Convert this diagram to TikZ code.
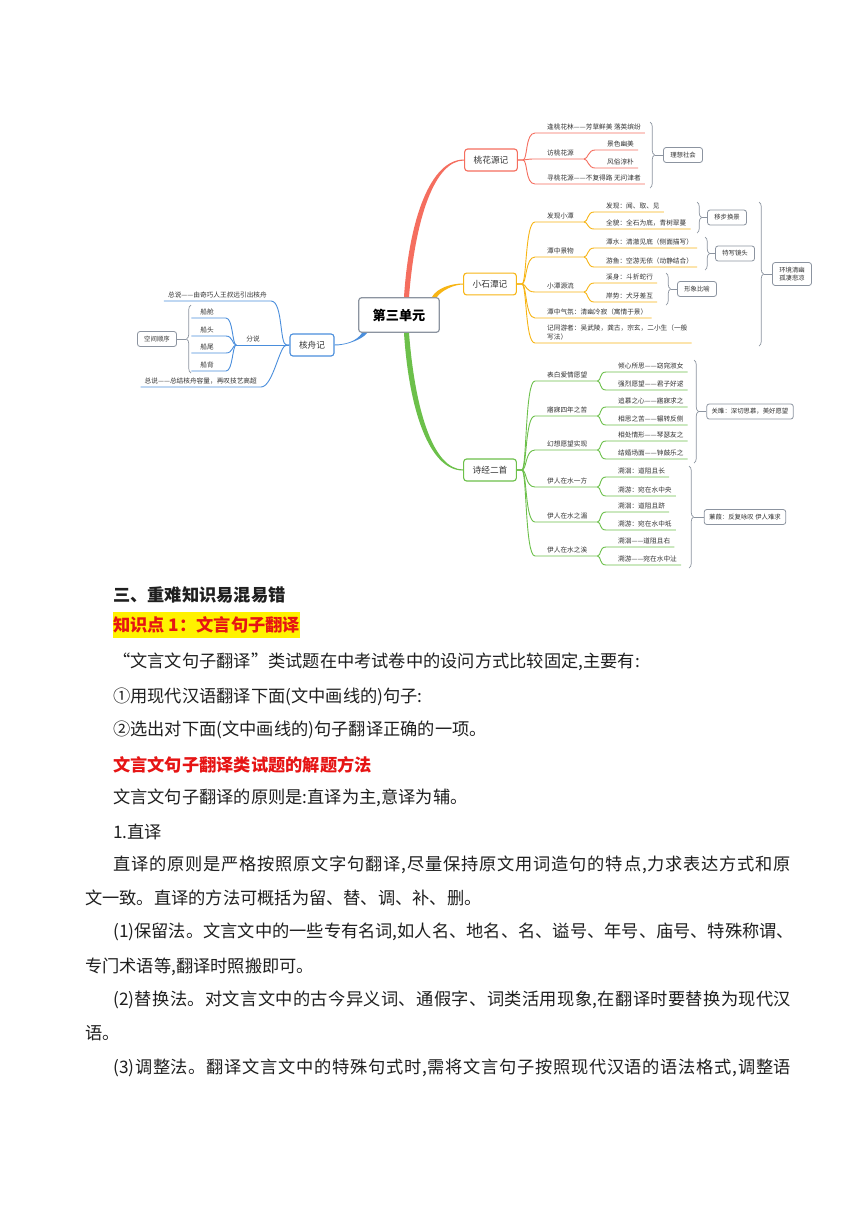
\documentclass[tikz,border=0pt]{standalone}
\usepackage{fontspec}
\newfontfamily\cjk{Noto Sans CJK SC}
\usetikzlibrary{decorations.pathreplacing}

% stretchable glue between CJK characters, for the justified lines
\XeTeXinterchartokenstate=1
\newcount\cjkcode
\def\cjkclassrange#1#2{\cjkcode=#1 \loop\XeTeXcharclass\cjkcode=7 \advance\cjkcode by 1 \ifnum\cjkcode<#2 \repeat}
\cjkclassrange{"4E00}{"A000}
\cjkclassrange{"3000}{"3040}
\cjkclassrange{"FF00}{"FFF0}
\cjkclassrange{"2460}{"2500}
\XeTeXcharclass"201C=7 \XeTeXcharclass"201D=7 \XeTeXcharclass"2014=7
\XeTeXinterchartoks 7 7 = {\hskip 0pt plus 1pt\relax}
\XeTeXinterchartoks 7 0 = {\hskip 0pt plus 1pt\relax}
\XeTeXinterchartoks 0 7 = {\hskip 0pt plus 1pt\relax}

\definecolor{cRed}{RGB}{245,110,95}
\definecolor{cOrange}{RGB}{247,181,20}
\definecolor{cGreen}{RGB}{108,192,74}
\definecolor{cBlue}{RGB}{74,142,220}
\definecolor{cGray}{RGB}{140,148,160}
\definecolor{cText}{RGB}{51,51,51}
\definecolor{cHead}{RGB}{230,20,20}

\tikzset{
    unitbox/.style = {draw=cGray, line width=1.2bp, rounded corners=3bp, fill=white,
        font=\cjk\fontsize{13.2}{15}\selectfont\bfseries, inner xsep=14bp, inner ysep=11bp},
    topic/.style = {draw=#1, line width=1.1bp, rounded corners=3bp, fill=white,
        font=\cjk\fontsize{8.7}{10}\selectfont, text=cText, inner xsep=9bp, inner ysep=7bp},
    leaf/.style = {font=\cjk\fontsize{6.7}{8.5}\selectfont, text=cText,
        inner xsep=4bp, inner ysep=3bp, anchor=south west},
    leafl/.style = {leaf, anchor=south east},
    note/.style = {draw=cGray, line width=0.8bp, rounded corners=2.5bp, fill=white,
        font=\cjk\fontsize{6.4}{8}\selectfont, text=cText, inner xsep=5bp, inner ysep=4.5bp,
        minimum width=39bp},
    twig/.style = {line width=0.9bp},
    brace/.style = {draw=cGray, line width=0.7bp, decorate, decoration={brace, amplitude=4.5bp}},
    tick/.style = {draw=cGray, line width=0.7bp},
    body/.style = {font=\cjk\fontsize{17.3}{20}\selectfont, text=black!88, anchor=west, inner sep=0pt},
}

\begin{document}
\begin{tikzpicture}[x=1bp, y=-1bp]

    \useasboundingbox (0,0) rectangle (860,1216);
    \fill[white] (0,0) rectangle (860,1216);

    \node[unitbox] (unit) at (399,315) {第三单元};
    \node[topic=cRed] (tao) at (491,160) {桃花源记};
    \node[topic=cOrange] (xst) at (490,284) {小石潭记};
    \node[topic=cGreen] (sjing) at (490,470) {诗经二首};
    \node[topic=cBlue] (hzj) at (312,345) {核舟记};

    \fill[cRed] ([xshift=5bp]unit.north) .. controls +(5,-77) and +(-34,0) .. ([yshift=0.5bp]tao.west)
        -- ([yshift=-0.5bp]tao.west) .. controls +(-30,0) and +(6,-77) .. ([xshift=10bp]unit.north) -- cycle;
    \fill[cOrange] ([xshift=-8bp]unit.north east) .. controls +(5,-9) and +(-12,0) .. ([yshift=0.5bp]xst.west)
        -- ([yshift=-0.5bp]xst.west) .. controls +(-10,0) and +(4,-6) .. ([xshift=-3bp]unit.north east) -- cycle;
    \fill[cGreen] ([xshift=5bp]unit.south) .. controls +(5,77) and +(-34,0) .. ([yshift=-0.5bp]sjing.west)
        -- ([yshift=0.5bp]sjing.west) .. controls +(-30,0) and +(6,77) .. ([xshift=10bp]unit.south) -- cycle;
    \fill[cBlue] ([xshift=4bp]unit.south west) .. controls +(-6,9) and +(10,0) .. ([yshift=0.5bp]hzj.east)
        -- ([yshift=-0.5bp]hzj.east) .. controls +(12,0) and +(-4,6) .. ([xshift=9bp]unit.south west) -- cycle;

    %--------------------------------------------

    \node[leaf] (t1) at (543,133) {逢桃花林——芳草鲜美 落英缤纷};
    \node[leaf] (t2) at (543,159) {访桃花源};
    \node[leaf] (t3) at (543,184) {寻桃花源——不复得路 无问津者};
    \node[leaf] (t21) at (603,150) {景色幽美};
    \node[leaf] (t22) at (603,168) {风俗淳朴};

    \draw[cRed, twig] (tao.east) -- ++(5,0) .. controls +(5,0) and +(-10,0) .. ([xshift=-8bp]t1.south west) -- (t1.south east);
    \draw[cRed, twig] (tao.east) -- ++(5,0) .. controls +(5,0) and +(-10,0) .. ([xshift=-8bp]t2.south west) -- ([xshift=6bp]t2.south east);
    \draw[cRed, twig] (tao.east) -- ++(5,0) .. controls +(5,0) and +(-10,0) .. ([xshift=-8bp]t3.south west) -- (t3.south east);
    \draw[cRed, twig] ([xshift=6bp]t2.south east) .. controls +(4,0) and +(-7,0) .. ([xshift=-8bp]t21.south west) -- (t21.south east);
    \draw[cRed, twig] ([xshift=6bp]t2.south east) .. controls +(4,0) and +(-7,0) .. ([xshift=-8bp]t22.south west) -- (t22.south east);

    \draw[brace] (650,122) -- (650,188);
    \coordinate (b1) at (655,155);
    \node[note] (n1) at (683,155) {理想社会};
    \draw[tick] (b1) -- (n1.west);

    %--------------------------------------------

    \node[leaf] (x1) at (543,222) {发现小潭};
    \node[leaf] (x11) at (602,212) {发现：闻、取、见};
    \node[leaf] (x12) at (602,229) {全貌：全石为底，青树翠蔓};
    \node[leaf] (x2) at (543,257) {潭中景物};
    \node[leaf] (x21) at (602,248) {潭水：清澈见底（侧面描写）};
    \node[leaf] (x22) at (602,267) {游鱼：空游无依（动静结合）};
    \node[leaf] (x3) at (543,292) {小潭源流};
    \node[leaf] (x31) at (602,283) {溪身：斗折蛇行};
    \node[leaf] (x32) at (602,302) {岸势：犬牙差互};
    \node[leaf] (x4) at (543,318) {潭中气氛：清幽冷寂（寓情于景）};
    \node[leaf, align=left] (x5) at (543,343) {记同游者：吴武陵，龚古，宗玄，二小生（一般\\写法）};

    \draw[cOrange, twig] (xst.east) -- ++(5,0) .. controls +(5,0) and +(-10,0) .. ([xshift=-8bp]x1.south west) -- ([xshift=6bp]x1.south east);
    \draw[cOrange, twig] (xst.east) -- ++(5,0) .. controls +(5,0) and +(-10,0) .. ([xshift=-8bp]x2.south west) -- ([xshift=6bp]x2.south east);
    \draw[cOrange, twig] (xst.east) -- ++(5,0) .. controls +(5,0) and +(-10,0) .. ([xshift=-8bp]x3.south west) -- ([xshift=6bp]x3.south east);
    \draw[cOrange, twig] (xst.east) -- ++(5,0) .. controls +(5,0) and +(-10,0) .. ([xshift=-8bp]x4.south west) -- (x4.south east);
    \draw[cOrange, twig] (xst.east) -- ++(5,0) .. controls +(5,0) and +(-10,0) .. ([xshift=-8bp]x5.south west) -- (x5.south east);
    \draw[cOrange, twig] ([xshift=6bp]x1.south east) .. controls +(4,0) and +(-7,0) .. ([xshift=-8bp]x11.south west) -- (x11.south east);
    \draw[cOrange, twig] ([xshift=6bp]x1.south east) .. controls +(4,0) and +(-7,0) .. ([xshift=-8bp]x12.south west) -- (x12.south east);
    \draw[cOrange, twig] ([xshift=6bp]x2.south east) .. controls +(4,0) and +(-7,0) .. ([xshift=-8bp]x21.south west) -- (x21.south east);
    \draw[cOrange, twig] ([xshift=6bp]x2.south east) .. controls +(4,0) and +(-7,0) .. ([xshift=-8bp]x22.south west) -- (x22.south east);
    \draw[cOrange, twig] ([xshift=6bp]x3.south east) .. controls +(4,0) and +(-7,0) .. ([xshift=-8bp]x31.south west) -- (x31.south east);
    \draw[cOrange, twig] ([xshift=6bp]x3.south east) .. controls +(4,0) and +(-7,0) .. ([xshift=-8bp]x32.south west) -- (x32.south east);

    \draw[brace] (697,202) -- (697,233);
    \coordinate (b2) at (702,217.5);
    \node[note] (n2) at (727,217.5) {移步换景};
    \draw[tick] (b2) -- (n2.west);

    \draw[brace] (705,237) -- (705,270);
    \coordinate (b3) at (710,253.5);
    \node[note] (n3) at (735,253.5) {特写镜头};
    \draw[tick] (b3) -- (n3.west);

    \draw[brace] (666,273) -- (666,305);
    \coordinate (b4) at (671,289);
    \node[note] (n4) at (697,289) {形象比喻};
    \draw[tick] (b4) -- (n4.west);

    \draw[brace] (759,202) -- (759,346);
    \coordinate (b5) at (764,274);
    \node[note, align=center] (n5) at (792,274) {环境清幽\\孤凄悲凉};
    \draw[tick] (b5) -- (n5.west);

    %--------------------------------------------

    \node[leaf] (s1) at (543,381) {表白爱情愿望};
    \node[leaf] (s11) at (614,372) {倾心所思——窈窕淑女};
    \node[leaf] (s12) at (614,390) {强烈愿望——君子好逑};
    \node[leaf] (s2) at (543,416) {寤寐四年之苦};
    \node[leaf] (s21) at (614,407) {追慕之心——寤寐求之};
    \node[leaf] (s22) at (614,425) {相思之苦——辗转反侧};
    \node[leaf] (s3) at (543,450) {幻想愿望实现};
    \node[leaf] (s31) at (614,441) {相处情形——琴瑟友之};
    \node[leaf] (s32) at (614,459) {结婚场面——钟鼓乐之};
    \node[leaf] (s4) at (543,487) {伊人在水一方};
    \node[leaf] (s41) at (614,477) {溯洄：道阻且长};
    \node[leaf] (s42) at (614,496) {溯游：宛在水中央};
    \node[leaf] (s5) at (543,522) {伊人在水之湄};
    \node[leaf] (s51) at (614,512) {溯洄：道阻且跻};
    \node[leaf] (s52) at (614,530) {溯游：宛在水中坻};
    \node[leaf] (s6) at (543,556) {伊人在水之涘};
    \node[leaf] (s61) at (614,547) {溯洄——道阻且右};
    \node[leaf] (s62) at (614,565) {溯游——宛在水中沚};

    \draw[cGreen, twig] (sjing.east) -- ++(5,0) .. controls +(5,0) and +(-10,0) .. ([xshift=-8bp]s1.south west) -- ([xshift=6bp]s1.south east);
    \draw[cGreen, twig] (sjing.east) -- ++(5,0) .. controls +(5,0) and +(-10,0) .. ([xshift=-8bp]s2.south west) -- ([xshift=6bp]s2.south east);
    \draw[cGreen, twig] (sjing.east) -- ++(5,0) .. controls +(5,0) and +(-10,0) .. ([xshift=-8bp]s3.south west) -- ([xshift=6bp]s3.south east);
    \draw[cGreen, twig] (sjing.east) -- ++(5,0) .. controls +(5,0) and +(-10,0) .. ([xshift=-8bp]s4.south west) -- ([xshift=6bp]s4.south east);
    \draw[cGreen, twig] (sjing.east) -- ++(5,0) .. controls +(5,0) and +(-10,0) .. ([xshift=-8bp]s5.south west) -- ([xshift=6bp]s5.south east);
    \draw[cGreen, twig] (sjing.east) -- ++(5,0) .. controls +(5,0) and +(-10,0) .. ([xshift=-8bp]s6.south west) -- ([xshift=6bp]s6.south east);
    \draw[cGreen, twig] ([xshift=6bp]s1.south east) .. controls +(4,0) and +(-7,0) .. ([xshift=-8bp]s11.south west) -- (s11.south east);
    \draw[cGreen, twig] ([xshift=6bp]s1.south east) .. controls +(4,0) and +(-7,0) .. ([xshift=-8bp]s12.south west) -- (s12.south east);
    \draw[cGreen, twig] ([xshift=6bp]s2.south east) .. controls +(4,0) and +(-7,0) .. ([xshift=-8bp]s21.south west) -- (s21.south east);
    \draw[cGreen, twig] ([xshift=6bp]s2.south east) .. controls +(4,0) and +(-7,0) .. ([xshift=-8bp]s22.south west) -- (s22.south east);
    \draw[cGreen, twig] ([xshift=6bp]s3.south east) .. controls +(4,0) and +(-7,0) .. ([xshift=-8bp]s31.south west) -- (s31.south east);
    \draw[cGreen, twig] ([xshift=6bp]s3.south east) .. controls +(4,0) and +(-7,0) .. ([xshift=-8bp]s32.south west) -- (s32.south east);
    \draw[cGreen, twig] ([xshift=6bp]s4.south east) .. controls +(4,0) and +(-7,0) .. ([xshift=-8bp]s41.south west) -- (s41.south east);
    \draw[cGreen, twig] ([xshift=6bp]s4.south east) .. controls +(4,0) and +(-7,0) .. ([xshift=-8bp]s42.south west) -- (s42.south east);
    \draw[cGreen, twig] ([xshift=6bp]s5.south east) .. controls +(4,0) and +(-7,0) .. ([xshift=-8bp]s51.south west) -- (s51.south east);
    \draw[cGreen, twig] ([xshift=6bp]s5.south east) .. controls +(4,0) and +(-7,0) .. ([xshift=-8bp]s52.south west) -- (s52.south east);
    \draw[cGreen, twig] ([xshift=6bp]s6.south east) .. controls +(4,0) and +(-7,0) .. ([xshift=-8bp]s61.south west) -- (s61.south east);
    \draw[cGreen, twig] ([xshift=6bp]s6.south east) .. controls +(4,0) and +(-7,0) .. ([xshift=-8bp]s62.south west) -- (s62.south east);

    \draw[brace] (694,360) -- (694,463);
    \coordinate (b6) at (699,411.5);
    \node[note] (n6) at (750,411.5) {关雎：深切思慕，美好愿望};
    \draw[tick] (b6) -- (n6.west);

    \draw[brace] (689,466) -- (689,568);
    \coordinate (b7) at (694,517);
    \node[note] (n7) at (745,517) {蒹葭：反复咏叹 伊人难求};
    \draw[tick] (b7) -- (n7.west);

    %--------------------------------------------

    \node[leafl] (h1) at (271,301) {总说——由奇巧人王叔远引出核舟};
    \node[leafl] (h2) at (264,345) {分说};
    \node[leafl] (h21) at (218,318) {船舱};
    \node[leafl] (h22) at (218,336) {船头};
    \node[leafl] (h23) at (218,353) {船尾};
    \node[leafl] (h24) at (218,371) {船背};
    \node[leafl] (h3) at (261,387) {总说——总结核舟容量，再叹技艺高超};

    \draw[cBlue, twig] (hzj.west) -- ++(-3,0) .. controls +(-7,0) and +(12,0) .. (h1.south east) -- (h1.south west);
    \draw[cBlue, twig] (hzj.west) -- ([xshift=-6bp]h2.south west);
    \draw[cBlue, twig] (hzj.west) -- ++(-3,0) .. controls +(-7,0) and +(12,0) .. (h3.south east) -- (h3.south west);
    \draw[cBlue, twig] ([xshift=-6bp]h2.south west) .. controls +(-4,0) and +(7,0) .. ([xshift=8bp]h21.south east) -- ([xshift=-5bp]h21.south west);
    \draw[cBlue, twig] ([xshift=-6bp]h2.south west) .. controls +(-4,0) and +(7,0) .. ([xshift=8bp]h22.south east) -- ([xshift=-5bp]h22.south west);
    \draw[cBlue, twig] ([xshift=-6bp]h2.south west) .. controls +(-4,0) and +(7,0) .. ([xshift=8bp]h23.south east) -- ([xshift=-5bp]h23.south west);
    \draw[cBlue, twig] ([xshift=-6bp]h2.south west) .. controls +(-4,0) and +(7,0) .. ([xshift=8bp]h24.south east) -- ([xshift=-5bp]h24.south west);

    \draw[brace] (191,373) -- (191,305);
    \coordinate (b8) at (186,339);
    \node[note] (n8) at (157,339) {空间顺序};
    \draw[tick] (b8) -- (n8.east);

    %--------------------------------------------

    \node[body, font=\cjk\fontsize{17.3}{20}\selectfont\bfseries] (sec) at (113,595) {三、重难知识易混易错};
    \node[body, font=\cjk\fontsize{17.3}{20}\selectfont\bfseries, fill=yellow, text=cHead, inner ysep=4.5bp] (kp) at (113,625) {知识点 1：文言句子翻译};
    \node[body] (p1) at (113,662) {“文言文句子翻译”类试题在中考试卷中的设问方式比较固定,主要有:};
    \node[body] (p2) at (113,697) {①用现代汉语翻译下面(文中画线的)句子:};
    \node[body] (p3) at (113,730) {②选出对下面(文中画线的)句子翻译正确的一项。};
    \node[body, font=\cjk\fontsize{17.3}{20}\selectfont\bfseries, text=cHead] (way) at (113,765) {文言文句子翻译类试题的解题方法};
    \node[body] (p4) at (113,798) {文言文句子翻译的原则是:直译为主,意译为辅。};
    \node[body] (p5) at (113,832) {1.直译};
    \node[body] (p6) at (113,865) {\hbox to 678bp{直译的原则是严格按照原文字句翻译,尽量保持原文用词造句的特点,力求表达方式和原}};
    \node[body] (p6b) at (85,898) {文一致。直译的方法可概括为留、替、调、补、删。};
    \node[body] (p7) at (113,932) {\hbox to 678bp{(1)保留法。文言文中的一些专有名词,如人名、地名、名、谥号、年号、庙号、特殊称谓、}};
    \node[body] (p7b) at (85,967) {专门术语等,翻译时照搬即可。};
    \node[body] (p8) at (113,1000) {\hbox to 678bp{(2)替换法。对文言文中的古今异义词、通假字、词类活用现象,在翻译时要替换为现代汉}};
    \node[body] (p8b) at (85,1033) {语。};
    \node[body] (p9) at (113,1068) {\hbox to 678bp{(3)调整法。翻译文言文中的特殊句式时,需将文言句子按照现代汉语的语法格式,调整语}};

\end{tikzpicture}
\end{document}
